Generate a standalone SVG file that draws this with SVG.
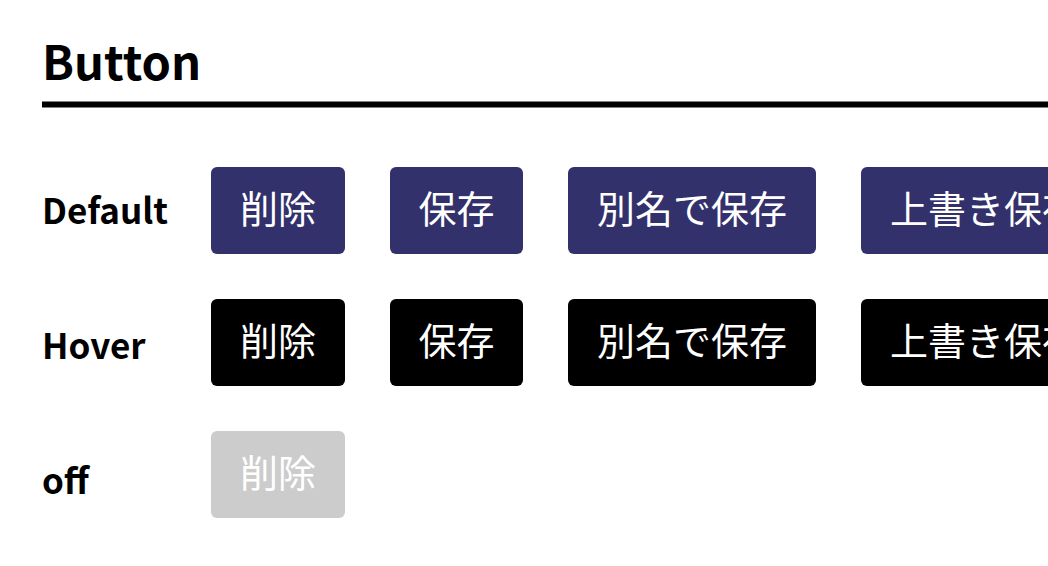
<svg xmlns="http://www.w3.org/2000/svg" width="1048" height="566" viewBox="0 0 1048 566">
<style>
.title{font-family:"Noto Sans CJK JP","Noto Sans",sans-serif;font-weight:700;font-size:47px;fill:#000}
.label{font-family:"Noto Sans CJK JP","Noto Sans",sans-serif;font-weight:700;font-size:35px;fill:#000}
.btxt{font-family:"Noto Sans CJK JP",sans-serif;font-weight:400;font-size:38px;fill:#fff;text-anchor:middle}
.def{fill:#33316b}
.hov{fill:#000}
.off{fill:#cccccc}
</style>
<rect width="1048" height="566" fill="#fff"/>
<g id="header">
<text class="title" x="42" y="80">Button</text>
<rect x="42" y="101.5" width="1006" height="6" fill="#000"/>
</g>
<g id="labels">
<text class="label" x="42" y="224">Default</text>
<text class="label" x="42" y="359">Hover</text>
<text class="label" x="42" y="494">off</text>
</g>
<g id="default-row">
<g id="d1"><rect class="def" x="211" y="167" width="134" height="87" rx="6"/><text class="btxt" x="278" y="222.5">削除</text></g>
<g id="d2"><rect class="def" x="390" y="167" width="133" height="87" rx="6"/><text class="btxt" x="456.5" y="222.5">保存</text></g>
<g id="d3"><rect class="def" x="568" y="167" width="248" height="87" rx="6"/><text class="btxt" x="692" y="222.5">別名で保存</text></g>
<g id="d4"><rect class="def" x="861" y="167" width="248" height="87" rx="6"/><text class="btxt" x="985" y="222.5">上書き保存</text></g>
</g>
<g id="hover-row">
<g id="h1"><rect class="hov" x="211" y="299" width="134" height="87" rx="6"/><text class="btxt" x="278" y="354.5">削除</text></g>
<g id="h2"><rect class="hov" x="390" y="299" width="133" height="87" rx="6"/><text class="btxt" x="456.5" y="354.5">保存</text></g>
<g id="h3"><rect class="hov" x="568" y="299" width="248" height="87" rx="6"/><text class="btxt" x="692" y="354.5">別名で保存</text></g>
<g id="h4"><rect class="hov" x="861" y="299" width="248" height="87" rx="6"/><text class="btxt" x="985" y="354.5">上書き保存</text></g>
</g>
<g id="off-row">
<g id="o1"><rect class="off" x="211" y="431" width="134" height="87" rx="6"/><text class="btxt" x="278" y="486.5">削除</text></g>
</g>
<g id="connectors"/>
</svg>
